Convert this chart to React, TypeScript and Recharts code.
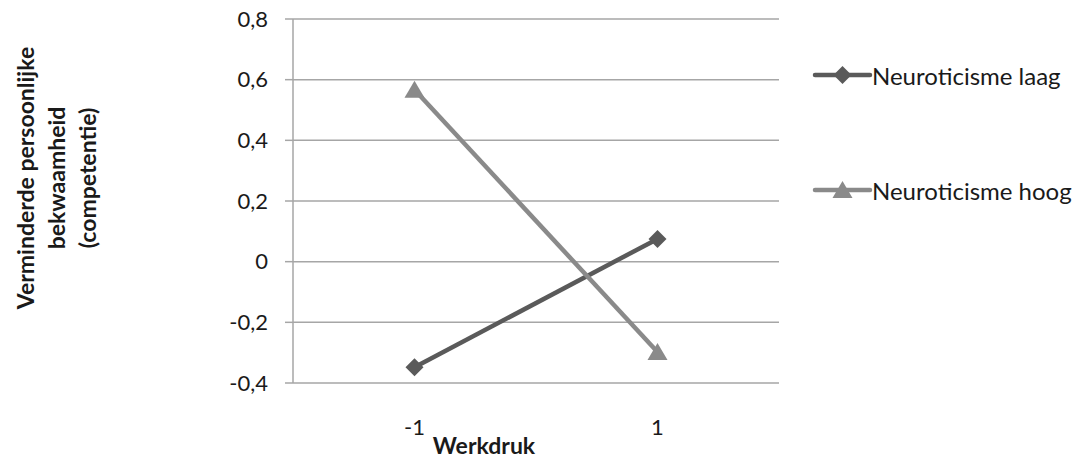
import React from 'react';
import { LineChart, Line, XAxis, YAxis, CartesianGrid, Label } from 'recharts';

// Werkdruk levels on the x axis
const categories = ['-1', '1'];
// Verminderde persoonlijke bekwaamheid per series
const laagValues = [-0.348, 0.075];
const hoogValues = [0.567, -0.298];
const yTicks = [-0.4, -0.2, 0, 0.2, 0.4, 0.6, 0.8];
const seriesNames = ['Neuroticisme laag', 'Neuroticisme hoog'];
const yTitleLines = ['Verminderde persoonlijke', 'bekwaamheid', '(competentie)'];
const xTitle = 'Werkdruk';

const data = categories.map((c, i) => ({ x: c, laag: laagValues[i], hoog: hoogValues[i] }));

const FONT = 'Lato, "Open Sans", sans-serif';
const TEXT_COLOR = '#1a1a1a';
const LAAG_COLOR = '#5a5a5a';
const HOOG_COLOR = '#8a8a8a';
const GRID_COLOR = '#a6a6a6';

const Diamond = ({ cx, cy, color }: { cx: number; cy: number; color: string }) => (
  <polygon points={`${cx},${cy - 9} ${cx + 9},${cy} ${cx},${cy + 9} ${cx - 9},${cy}`} fill={color} />
);

const Triangle = ({ cx, cy, color }: { cx: number; cy: number; color: string }) => (
  <polygon points={`${cx},${cy - 9} ${cx + 10},${cy + 8} ${cx - 10},${cy + 8}`} fill={color} />
);

const formatTick = (v: number) => (v === 0 ? '0' : v.toFixed(1).replace('.', ','));

// Legend drawn inside the svg so it does not take space from the plot area
const LegendBlock = () => {
  const items = [
    { name: seriesNames[0], color: LAAG_COLOR, Marker: Diamond },
    { name: seriesNames[1], color: HOOG_COLOR, Marker: Triangle },
  ];
  return (
    <g>
      {items.map((it, i) => {
        const y = 75 + i * 115;
        const x0 = 815;
        return (
          <g key={it.name}>
            <line x1={x0} x2={x0 + 55} y1={y} y2={y} stroke={it.color} strokeWidth={4.5} strokeLinecap="round" />
            <it.Marker cx={x0 + 27.5} cy={y} color={it.color} />
            <text x={x0 + 57} y={y} dominantBaseline="central" fontFamily={FONT} fontSize={24} fill={TEXT_COLOR}>
              {it.name}
            </text>
          </g>
        );
      })}
    </g>
  );
};

const YTitle = () => (
  <g>
    {yTitleLines.map((line, i) => {
      const x = 25 + i * 31;
      const y = 178;
      return (
        <text
          key={line}
          x={x}
          y={y}
          transform={`rotate(-90 ${x} ${y})`}
          textAnchor="middle"
          dominantBaseline="central"
          fontFamily={FONT}
          fontWeight="bold"
          fontSize={23}
          fill={TEXT_COLOR}
        >
          {line}
        </text>
      );
    })}
    <LegendBlock />
  </g>
);

const XTitle = () => (
  <text x={484} y={454} textAnchor="middle" fontFamily={FONT} fontWeight="bold" fontSize={23} fill={TEXT_COLOR}>
    {xTitle}
  </text>
);

export default function App() {
  return (
    <div style={{ position: 'absolute', left: 0, top: 0, width: 1078, height: 458, background: '#fff' }}>
      <LineChart width={1078} height={458} data={data} margin={{ top: 19, right: 299, left: 0, bottom: 0 }}>
        <CartesianGrid vertical={false} stroke={GRID_COLOR} strokeWidth={1.5} />
        <XAxis
          dataKey="x"
          scale="band"
          height={75}
          axisLine={false}
          tickLine={false}
          tickSize={6}
          tickMargin={30}
          tick={{ fontFamily: FONT, fontSize: 22, fill: TEXT_COLOR }}
        >
          <Label content={() => <XTitle />} />
        </XAxis>
        <YAxis
          width={293}
          domain={[-0.4, 0.8]}
          ticks={yTicks}
          interval={0}
          tickFormatter={formatTick}
          axisLine={{ stroke: GRID_COLOR, strokeWidth: 1.5 }}
          tickLine={{ stroke: GRID_COLOR, strokeWidth: 1.5 }}
          tickSize={8}
          tickMargin={17}
          tick={{ fontFamily: FONT, fontSize: 22, fill: TEXT_COLOR }}
        >
          <Label content={() => <YTitle />} />
        </YAxis>
        <Line
          dataKey="laag"
          name={seriesNames[0]}
          stroke={LAAG_COLOR}
          strokeWidth={4.5}
          isAnimationActive={false}
          dot={(p: any) => <Diamond key={`d${p.index}`} cx={p.cx} cy={p.cy} color={LAAG_COLOR} />}
          activeDot={false}
        />
        <Line
          dataKey="hoog"
          name={seriesNames[1]}
          stroke={HOOG_COLOR}
          strokeWidth={4.5}
          isAnimationActive={false}
          dot={(p: any) => <Triangle key={`t${p.index}`} cx={p.cx} cy={p.cy} color={HOOG_COLOR} />}
          activeDot={false}
        />
      </LineChart>
    </div>
  );
}
